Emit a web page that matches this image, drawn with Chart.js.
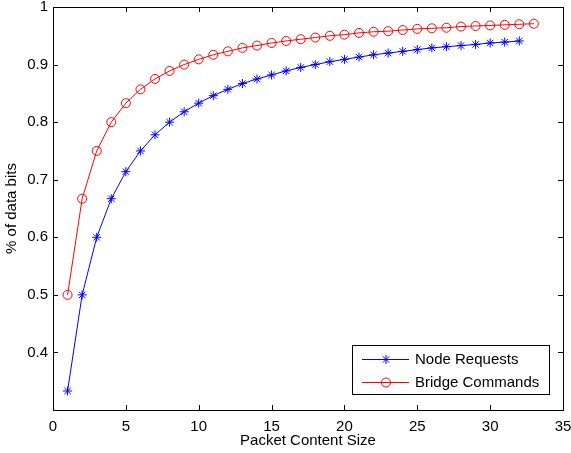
<!DOCTYPE html>
<html>
<head>
<meta charset="utf-8">
<script src="https://cdn.jsdelivr.net/npm/chart.js@4"></script>
<style>
  html, body { margin: 0; padding: 0; background: #fff; }
  #wrap { width: 571px; height: 453px; }
</style>
</head>
<body>
<div id="wrap"><canvas id="chart"></canvas></div>
<script>
const NODE_X = [1, 2, 3, 4, 5, 6, 7, 8, 9, 10, 11, 12, 13, 14, 15, 16,
    17, 18, 19, 20, 21, 22, 23, 24, 25, 26, 27, 28, 29, 30, 31, 32];
const NODE_Y = [0.333, 0.5, 0.6, 0.667, 0.714, 0.75, 0.778, 0.8, 0.818, 0.833, 0.846, 0.857,
    0.867, 0.875, 0.882, 0.889, 0.895, 0.9, 0.905, 0.909, 0.913, 0.917, 0.92, 0.923,
    0.926, 0.929, 0.931, 0.933, 0.935, 0.9375, 0.939, 0.941];
const BRIDGE_X = [1, 2, 3, 4, 5, 6, 7, 8, 9, 10, 11, 12, 13, 14, 15, 16, 17,
    18, 19, 20, 21, 22, 23, 24, 25, 26, 27, 28, 29, 30, 31, 32, 33];
const BRIDGE_Y = [0.5, 0.667, 0.75, 0.8, 0.833, 0.857, 0.875, 0.889, 0.9, 0.909, 0.917,
    0.923, 0.929, 0.933, 0.9375, 0.941, 0.944, 0.947, 0.95, 0.952, 0.955, 0.957,
    0.958, 0.96, 0.962, 0.963, 0.964, 0.966, 0.967, 0.968, 0.969, 0.97, 0.971];
const LABELS = ['Node Requests', 'Bridge Commands'];

const FONT = 'Liberation Sans, Arial, Helvetica, sans-serif';

// matlab style box + inward ticks + legend inside the axes
const matlabBox = {
    id: 'matlabBox',
    afterDraw(chart) {
        const {ctx, chartArea: a, scales: {x, y}} = chart;
        ctx.save();
        ctx.strokeStyle = '#000';
        ctx.lineWidth = 1;
        const T = 5;
        ctx.beginPath();
        x.ticks.forEach(t => {
            const px = Math.round(x.getPixelForValue(t.value)) + 0.5;
            ctx.moveTo(px, a.bottom); ctx.lineTo(px, a.bottom - T);
            ctx.moveTo(px, a.top); ctx.lineTo(px, a.top + T);
        });
        y.ticks.forEach(t => {
            if (t.value < 0.35) return;
            const py = Math.round(y.getPixelForValue(t.value)) + 0.5;
            ctx.moveTo(a.left, py); ctx.lineTo(a.left + T, py);
            ctx.moveTo(a.right, py); ctx.lineTo(a.right - T, py);
        });
        ctx.stroke();
        ctx.strokeRect(Math.round(a.left) + 0.5, Math.round(a.top) + 0.5,
            Math.round(a.right - a.left), Math.round(a.bottom - a.top));

        // legend
        const lx = Math.round(a.right) - 211, ly = Math.round(a.bottom) - 65, lw = 197, lh = 49;
        ctx.fillStyle = '#fff';
        ctx.fillRect(lx, ly, lw, lh);
        ctx.strokeRect(lx + 0.5, ly + 0.5, lw, lh);
        ctx.font = '15px ' + FONT;
        ctx.textBaseline = 'middle';
        chart.data.datasets.forEach((ds, i) => {
            const cy = ly + 14 + i * 23;
            ctx.strokeStyle = ds.borderColor;
            ctx.beginPath();
            ctx.moveTo(lx + 10, cy + 0.5); ctx.lineTo(lx + 57, cy + 0.5);
            ctx.stroke();
            ctx.fillStyle = 'rgba(0,0,0,0)';
            Chart.helpers.drawPoint(ctx, {
                pointStyle: ds.pointStyle, radius: ds.pointRadius, borderWidth: 1
            }, lx + 34, cy + 0.5);
            ctx.fillStyle = '#000';
            ctx.fillText(ds.label, lx + 63, cy + 1);
        });
        ctx.restore();
    }
};

new Chart(document.getElementById('chart'), {
    type: 'scatter',
    data: {
        datasets: [
            {
                label: LABELS[0],
                data: NODE_X.map((v, i) => ({x: v, y: NODE_Y[i]})),
                showLine: true,
                borderColor: 'rgb(0 0 255)',
                backgroundColor: 'rgba(0,0,0,0)',
                borderWidth: 1,
                pointStyle: 'star',
                pointRadius: 4.5,
                pointBorderWidth: 1,
            },
            {
                label: LABELS[1],
                data: BRIDGE_X.map((v, i) => ({x: v, y: BRIDGE_Y[i]})),
                showLine: true,
                borderColor: 'rgb(255 0 0)',
                backgroundColor: 'rgba(0,0,0,0)',
                borderWidth: 1,
                pointStyle: 'circle',
                pointRadius: 4.5,
                pointBorderWidth: 1,
            },
        ]
    },
    options: {
        responsive: true,
        maintainAspectRatio: false,
        animation: false,
        layout: {padding: {top: 7, right: 8, left: 0, bottom: 0}},
        scales: {
            x: {
                min: 0, max: 35,
                border: {display: false},
                grid: {display: false, drawTicks: false},
                ticks: {stepSize: 5, padding: 8, color: '#000', font: {family: FONT, size: 15}, maxRotation: 0},
                title: {display: true, text: 'Packet Content Size', color: '#000', padding: {top: 0, bottom: 3},
                    font: {family: FONT, size: 15}},
                afterFit: s => { s.height = 43; s.paddingLeft = 0; s.paddingRight = 0; },
            },
            y: {
                min: 0.3, max: 1,
                border: {display: false},
                grid: {display: false, drawTicks: false},
                ticks: {
                    stepSize: 0.1, padding: 5, color: '#000', font: {family: FONT, size: 15},
                    callback: v => v < 0.35 ? '' : (Math.round(v * 10) / 10).toString(),
                },
                title: {display: true, text: '% of data bits', color: '#000', padding: {top: 3, bottom: 0},
                    font: {family: FONT, size: 15}},
                afterFit: s => { s.width = 53; s.paddingTop = 0; s.paddingBottom = 0; },
            },
        },
        plugins: {
            legend: {display: false},
            tooltip: {enabled: false},
        }
    },
    plugins: [matlabBox]
});
</script>
</body>
</html>
